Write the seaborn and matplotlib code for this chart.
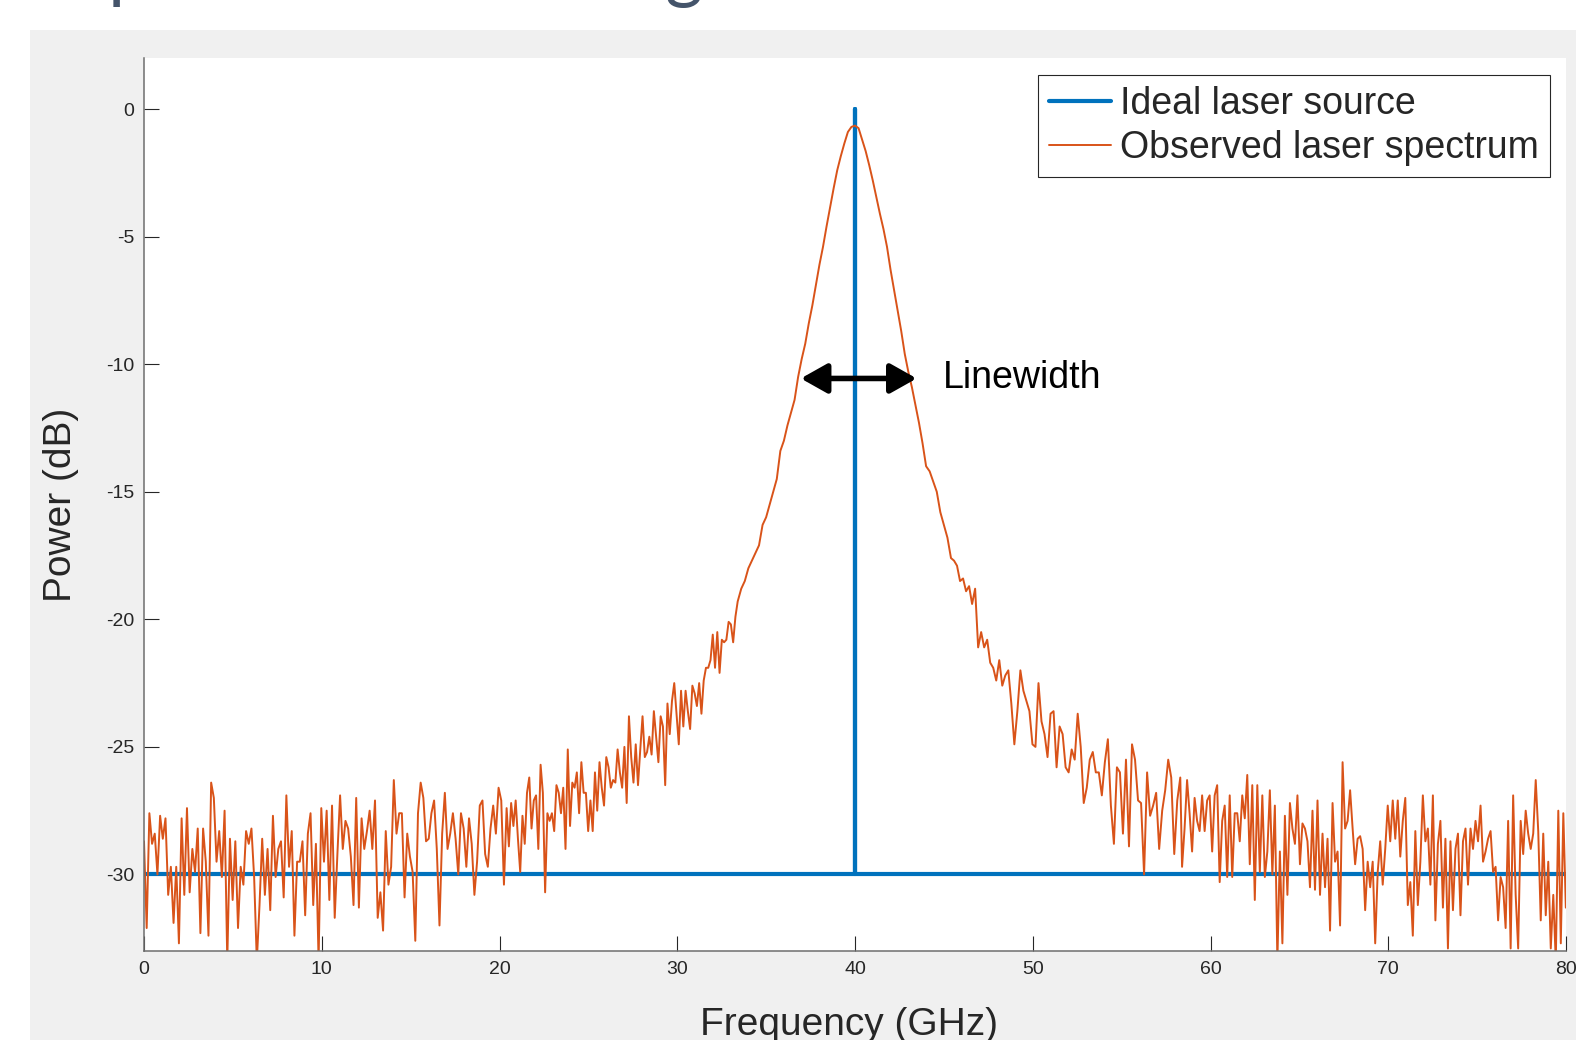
import numpy as np
import pandas as pd
import seaborn as sns
import matplotlib.pyplot as plt
from matplotlib.patches import Rectangle

# ideal source: flat floor with a single line at 40 GHz
ideal_freq = [0, 40, 40, 40, 80]
ideal_power = [-30, -30, 0, -30, -30]

# observed spectrum in segments (GHz ranges, dB values)
floor_left_range = (0.0, 20.25)
floor_left = [
    -28.7, -32.1, -27.6, -28.8, -28.4, -30.0, -27.7, -28.6, -27.8, -30.8,
    -29.7, -31.9, -29.7, -32.7, -27.8, -30.8, -27.4, -30.7, -29.0, -29.9,
    -28.2, -32.3, -28.2, -29.5, -32.4, -26.4, -27.0, -29.5, -28.3, -30.1,
    -27.5, -33.4, -28.6, -31.0, -28.7, -32.1, -29.7, -30.4, -28.3, -28.8,
    -28.2, -30.1, -33.4, -31.2, -28.6, -30.8, -29.0, -31.4, -27.7, -30.1,
    -29.0, -28.7, -30.9, -26.9, -29.7, -28.3, -32.4, -29.5, -29.5, -28.7,
    -31.6, -28.4, -27.6, -31.2, -28.8, -33.4, -27.4, -29.5, -27.5, -31.0,
    -27.3, -31.7, -29.2, -26.9, -29.0, -27.9, -28.2, -29.3, -31.2, -27.0,
    -31.3, -27.8, -29.0, -28.3, -27.5, -29.0, -27.1, -31.7, -30.7, -32.2,
    -28.3, -30.4, -29.7, -26.3, -28.4, -27.6, -27.6, -30.9, -28.4, -29.3,
    -29.9, -32.6, -27.6, -26.4, -27.0, -28.7, -28.6, -27.6, -27.1, -29.0,
    -32.0, -28.4, -26.8, -29.0, -28.4, -27.6, -28.6, -30.0, -27.6, -28.2,
    -29.7, -27.8, -28.8, -30.8, -29.5, -27.3, -27.1, -29.2, -29.7, -28.2,
    -27.3, -28.4, -26.6, -27.1, -30.4]

rise_range = (20.4, 33.4)
rise = [
    -27.4, -28.9, -27.2, -28.1, -27.1, -28.6, -29.9, -27.7, -28.8, -26.8,
    -26.2, -28.2, -27.1, -26.9, -29.0, -25.7, -26.8, -30.7, -27.6, -27.9,
    -27.6, -28.3, -26.5, -26.8, -27.6, -26.6, -29.0, -25.1, -28.1, -26.4,
    -26.6, -26.0, -27.6, -25.6, -26.8, -26.8, -28.3, -27.1, -28.3, -26.0,
    -27.5, -25.6, -26.6, -27.3, -25.4, -25.8, -26.6, -26.3, -26.4, -25.1,
    -26.0, -26.6, -25.0, -27.2, -23.8, -25.4, -26.4, -24.9, -26.5, -25.1,
    -23.8, -25.4, -25.2, -24.6, -25.3, -23.6, -24.6, -25.6, -23.8, -24.2,
    -26.5, -23.3, -24.5, -23.2, -22.5, -23.7, -24.9, -22.8, -24.2, -22.8,
    -23.6, -24.3, -22.6, -22.9, -23.4, -22.5, -23.7, -22.4, -21.9, -21.9,
    -21.6, -20.6, -21.9, -20.5, -22.1, -20.8, -20.9, -20.8, -20.1, -20.2,
    -20.9, -19.9, -19.3]

peak_range = (33.6, 45.2)
peak = [
    -18.8, -18.5, -18.0, -17.7, -17.4, -17.1, -16.3, -16.0, -15.5, -15.0,
    -14.5, -13.4, -13.0, -12.4, -11.9, -11.4, -10.5, -9.8, -9.2, -8.4,
    -7.7, -6.9, -6.1, -5.4, -4.6, -3.85, -3.1, -2.4, -1.85, -1.35,
    -0.9, -0.7, -0.65, -0.75, -1.2, -1.65, -2.2, -2.8, -3.45, -4.1,
    -4.7, -5.4, -6.3, -7.1, -7.9, -8.7, -9.6, -10.3, -10.9, -11.6,
    -12.3, -13.1, -14.0, -14.2, -14.6, -15.0, -15.8, -16.3, -16.8]

fall_range = (45.4, 58.3)
fall = [
    -17.6, -17.7, -17.9, -18.5, -18.4, -18.9, -18.7, -19.4, -18.8, -21.1,
    -20.5, -21.1, -20.8, -21.7, -21.9, -22.4, -21.6, -22.6, -22.2, -22.0,
    -23.3, -24.9, -23.6, -22.0, -22.8, -23.2, -23.6, -24.9, -25.0, -22.5,
    -24.0, -24.5, -25.4, -23.7, -23.6, -25.8, -24.2, -24.5, -25.8, -26.0,
    -25.1, -25.5, -23.7, -25.0, -27.2, -26.6, -25.5, -25.2, -26.0, -26.0,
    -26.9, -25.6, -24.7, -27.3, -28.8, -25.8, -26.0, -28.4, -25.5, -28.9,
    -24.9, -25.5, -27.1, -27.2, -30.0, -26.0, -27.7, -27.3, -26.8, -29.0,
    -27.5, -26.7, -25.5, -26.2, -29.2, -27.1, -26.2]

floor_right_range = (58.4, 79.99)
floor_right = [
    -29.7, -28.2, -26.3, -27.6, -29.1, -27.0, -27.9,
    -28.3, -26.9, -28.3, -27.1, -26.9, -29.1, -26.9, -26.5, -30.3, -27.9,
    -27.3, -30.1, -26.9, -30.1, -27.6, -27.6, -28.7, -26.9, -27.8, -26.1,
    -29.6, -26.5, -31.0, -26.5, -29.9, -26.9, -30.1, -29.1, -26.7, -30.0,
    -27.3, -33.4, -29.1, -32.7, -27.7, -30.8, -27.2, -28.2, -28.8, -26.9,
    -29.6, -28.0, -28.2, -28.7, -30.5, -27.5, -30.6, -27.1, -30.8, -28.4,
    -30.5, -28.6, -32.2, -27.2, -29.5, -29.1, -32.0, -25.6, -28.2, -27.9,
    -26.7, -28.2, -29.6, -28.6, -28.5, -29.0, -31.4, -29.5, -30.5, -29.5,
    -32.7, -29.9, -28.7, -30.4, -29.0, -27.3, -28.7, -27.1, -28.6, -27.1,
    -29.3, -27.9, -27.0, -31.2, -30.3, -32.4, -28.3, -31.2, -29.5, -26.9,
    -28.7, -28.2, -30.4, -26.9, -31.8, -28.8, -27.9, -31.3, -28.6, -32.9,
    -28.7, -31.4, -29.0, -28.4, -31.6, -28.7, -28.2, -30.4, -28.2, -29.0,
    -27.9, -28.7, -27.3, -29.5, -29.1, -28.6, -28.3, -29.9, -29.7, -31.8,
    -30.1, -30.5, -32.1, -27.9, -32.9, -26.9, -30.8, -32.9, -27.9, -29.2,
    -27.5, -28.4, -29.0, -28.4, -26.3, -28.3, -31.8, -28.4, -31.6, -29.5,
    -32.9, -30.8, -33.4, -27.5, -32.7, -27.6, -31.3]

xticks = [0, 10, 20, 30, 40, 50, 60, 70, 80]
yticks = [-30, -25, -20, -15, -10, -5, 0]
ytick_labels = ['-30', '-25', '-20', '-15', '-10', '-5', '0']

# linewidth marker (GHz, dB)
lw_lo, lw_hi, lw_level = 36.95, 43.47, -10.56

segments = [(floor_left_range, floor_left), (rise_range, rise), (peak_range, peak),
            (fall_range, fall), (floor_right_range, floor_right)]
obs_freq = np.concatenate([np.linspace(r[0], r[1], len(v)) for r, v in segments])
obs_power = np.concatenate([v for r, v in segments])
observed = pd.DataFrame({'freq': obs_freq, 'power': obs_power})
ideal = pd.DataFrame({'freq': ideal_freq, 'power': ideal_power})

sns.set_style('ticks')
plt.rcParams['font.family'] = ['Liberation Sans', 'DejaVu Sans']

W, H = 1576, 1040
fig = plt.figure(figsize=(W / 100, H / 100), dpi=100)
fig.patches.append(Rectangle((30 / W, 0), 1, (H - 30) / H, transform=fig.transFigure,
                             facecolor='#f0f0f0', edgecolor='none', zorder=-10))
# slide title, only its descenders fall inside the screenshot
fig.text(69 / W, 1 + 5 / H, 'Spectral broadening', family=['Lato', 'DejaVu Sans'],
         fontsize=52, color='#44546a', ha='left', va='baseline')

ax = fig.add_axes([144 / W, 89 / H, 1422 / W, 893 / H])
ax.set_zorder(5)
ax.set_facecolor('white')

sns.lineplot(data=ideal, x='freq', y='power', sort=False, estimator=None,
             color='#0072BD', lw=3.0, label='Ideal laser source', ax=ax)
sns.lineplot(data=observed, x='freq', y='power', sort=False, estimator=None,
             color='#D95319', lw=1.4, label='Observed laser spectrum', ax=ax)

ax.set_xlim(0, 80)
ax.set_ylim(-33, 2)
ax.set_xticks(xticks)
ax.set_xticklabels([str(t) for t in xticks])
ax.set_yticks(yticks)
ax.set_yticklabels(ytick_labels)
ax.tick_params(direction='in', length=10.5, width=0.8, color='#262626',
               labelsize=14, labelcolor='#262626', pad=7)
for s in ['top', 'right']:
    ax.spines[s].set_visible(False)
for s in ['left', 'bottom']:
    ax.spines[s].set_color('#6e6e6e')
    ax.spines[s].set_linewidth(1.1)

ax.set_xlabel('Frequency (GHz)', fontsize=28, color='#262626')
ax.xaxis.set_label_coords(0.496, -0.063)
ax.set_ylabel('Power (dB)', fontsize=28, color='#262626')
ax.yaxis.set_label_coords(-0.046, 0.5)

ax.annotate('', xy=(lw_lo, lw_level), xytext=(lw_hi, lw_level),
            arrowprops=dict(arrowstyle='<|-|>,head_length=0.8,head_width=0.45',
                            color='black', lw=4, shrinkA=0, shrinkB=0,
                            mutation_scale=20))
ax.text(44.95, lw_level, 'Linewidth', fontsize=27, ha='left', va='center', color='black')

leg = ax.legend(loc='upper right', bbox_to_anchor=(0.989, 0.981), borderaxespad=0,
                fontsize=27, frameon=True, fancybox=False, edgecolor='#262626',
                framealpha=1, handlelength=1.65, handletextpad=0.25,
                labelspacing=0.2, borderpad=0.3)
leg.get_frame().set_linewidth(0.8)

fig.savefig('out.png', dpi=100)
